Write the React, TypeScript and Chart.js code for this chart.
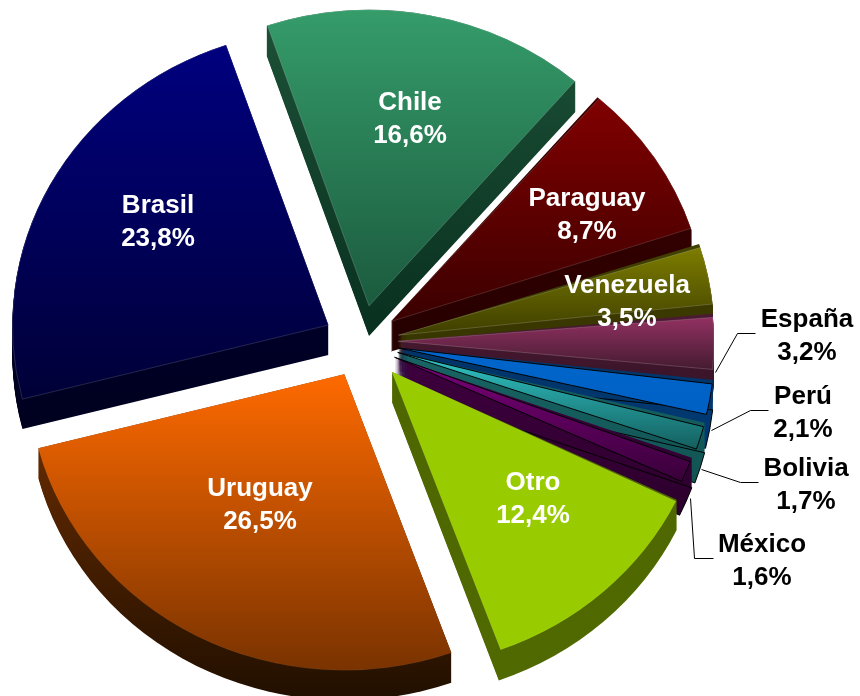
import React, { useEffect, useRef } from "react";
import Chart from "chart.js/auto";

const LABELS = ["Chile", "Paraguay", "Venezuela", "España", "Perú", "Bolivia", "México", "Otro", "Uruguay", "Brasil"];
const VALUES = [16.6, 8.7, 3.5, 3.2, 2.1, 1.7, 1.6, 12.4, 26.5, 23.8];

// style tables
const TOP_COLORS = ["#359c6a", "#800000", "#808000", "#993366", "#0066cc", "#33cccc", "#800080", "#99cc00", "#ff6a00", "#000080"];
const BOTTOM_COLORS = ["#1b5a3e", "#3a0000", "#3f3f00", "#401a2d", "#0060c4", "#145f5f", "#3a003a", "#99cc00", "#7a3300", "#000038"];
const WALL_BOTTOM = ["#04291a", "#1e0000", "#332f00", "#2a1020", "#003c78", "#0f5050", "#2a002a", "#506900", "#200f00", "#00001a"];
const EXPLODE = [37, 30, 31, 31, 31, 31, 31, 40, 40, 45];
const NUDGE_X = [-4, 0, 2, 1, 2, 2, 0, -1, -3, 2];
const NUDGE_Y = [0, -3, 1, 1, 3, 4, 6, 4, 1, 5];
const EDGE_COLORS = ["rgba(255,255,255,.3)", "rgba(255,255,255,.25)", "rgba(255,255,255,.3)", "rgba(255,255,255,.3)", "#000", "#000", "#000", "rgba(255,255,255,.15)", "rgba(255,255,255,.1)", "rgba(255,255,255,.25)"];
const EDGE_WIDTHS = [0.6, 0.6, 0.6, 0.6, 1, 1, 1, 0.5, 0.5, 0.6];
const WALL_ORDER = [0, 9, 1, 2, 3, 4, 5, 6, 7, 8];
const LABEL_POS = [[410, 103], [587, 199], [627, 286], [807, 320], [803, 397], [806, 469], [762, 545], [533, 483], [260, 489], [158, 206]];
const LABEL_COLOR = ["#fff", "#fff", "#fff", "#000", "#000", "#000", "#000", "#fff", "#fff", "#fff"];
const LEADERS: Record<number, number[][]> = {
  3: [[715, 372], [737, 333], [755, 333]],
  4: [[711, 430], [750, 410], [768, 410]],
  5: [[701, 469], [740, 482], [758, 482]],
  6: [[690, 498], [694, 558], [713, 558]],
};

const SQUASH = 0.937;
const CENTER_X = 366;
const CENTER_Y = 340;
const RADIUS = 316;
const DEPTH = 30;
const ROTATION = -18.9;
const WALL_SHADE = 0.5;
const LINE_GAP = 32.5;

const TOTAL = VALUES.reduce((a, b) => a + b, 0);

function angles(i: number) {
  let cum = 0;
  for (let k = 0; k < i; k++) cum += VALUES[k];
  const base = -Math.PI / 2 + (ROTATION * Math.PI) / 180;
  const start = base + (cum / TOTAL) * 2 * Math.PI;
  const end = start + (VALUES[i] / TOTAL) * 2 * Math.PI;
  return { start, end };
}

function yRange(i: number) {
  const { start, end } = angles(i);
  const ys = [0, Math.sin(start) * RADIUS, Math.sin(end) * RADIUS];
  for (let n = -2; n < 4; n++) {
    const a = Math.PI / 2 + n * Math.PI;
    if (a > start && a < end) ys.push(Math.sin(a) * RADIUS);
  }
  return { min: Math.min(...ys), max: Math.max(...ys) };
}

function fixFor(i: number) {
  const circ = (VALUES[i] / TOTAL) * 2 * Math.PI;
  return 1 - Math.sin(Math.min(Math.PI, circ));
}

function shade(hex: string, f: number) {
  const n = parseInt(hex.slice(1), 16);
  return `rgb(${((n >> 16) & 255) * f},${((n >> 8) & 255) * f},${(n & 255) * f})`;
}

const Pie3D = {
  id: "pie3d",
  beforeDatasetsDraw(chart: any) {
    const ctx = chart.ctx;
    const arcs = chart.getDatasetMeta(0).data;
    const area = chart.chartArea;
    const ox = (area.left + area.right) / 2;
    const oy = (area.top + area.bottom) / 2;
    // the arc element widens its radius by a share of its offset: cancel that
    arcs.forEach((a: any, i: number) => {
      a.outerRadius = RADIUS - EXPLODE[i] * fixFor(i);
      a.x = ox + NUDGE_X[i];
      a.y = oy + NUDGE_Y[i] / SQUASH;
    });
    ctx.save();
    ctx.translate(CENTER_X, CENTER_Y);
    ctx.scale(1, SQUASH);
    ctx.translate(-ox, -oy);
    for (const i of WALL_ORDER) {
      const { start, end } = angles(i);
      const mid = (start + end) / 2;
      const cx = arcs[i].x + Math.cos(mid) * EXPLODE[i];
      const cy = arcs[i].y + Math.sin(mid) * EXPLODE[i];
      const r = yRange(i);
      const g = ctx.createLinearGradient(0, oy + r.min, 0, oy + r.max + DEPTH + 40);
      g.addColorStop(0, shade(TOP_COLORS[i], WALL_SHADE));
      g.addColorStop(1, WALL_BOTTOM[i]);
      ctx.fillStyle = g;
      for (let t = DEPTH; t >= 0; t -= 1) {
        const yy = cy + t / SQUASH;
        ctx.beginPath();
        ctx.moveTo(cx, yy);
        ctx.arc(cx, yy, RADIUS, start, end);
        ctx.closePath();
        ctx.fill();
      }
      if (EDGE_COLORS[i] === "#000") {
        ctx.strokeStyle = "#000";
        ctx.lineWidth = 1;
        ctx.beginPath();
        ctx.moveTo(cx, cy + DEPTH / SQUASH);
        ctx.arc(cx, cy + DEPTH / SQUASH, RADIUS, start, end);
        ctx.closePath();
        ctx.stroke();
      }
    }
  },
  afterDatasetsDraw(chart: any) {
    const ctx = chart.ctx;
    ctx.restore();
    ctx.save();
    ctx.strokeStyle = "#000";
    ctx.lineWidth = 1;
    Object.values(LEADERS).forEach((pts) => {
      ctx.beginPath();
      pts.forEach((p, n) => (n ? ctx.lineTo(p[0] + 0.5, p[1] + 0.5) : ctx.moveTo(p[0] + 0.5, p[1] + 0.5)));
      ctx.stroke();
    });
    ctx.font = 'bold 26px "Liberation Sans", Arial, sans-serif';
    ctx.textAlign = "center";
    ctx.textBaseline = "middle";
    LABELS.forEach((name, i) => {
      const [x, y] = LABEL_POS[i];
      ctx.fillStyle = LABEL_COLOR[i];
      ctx.fillText(name, x, y);
      ctx.fillText(VALUES[i].toFixed(1).replace(".", ",") + "%", x, y + LINE_GAP);
    });
    ctx.restore();
  },
};

export default function App() {
  const ref = useRef<HTMLCanvasElement>(null);
  useEffect(() => {
    document.body.style.margin = "0";
    const chart = new Chart(ref.current!, {
      type: "pie",
      plugins: [Pie3D],
      data: {
        labels: LABELS,
        datasets: [
          {
            data: VALUES,
            radius: RADIUS,
            clip: false,
            offset: EXPLODE.map((d) => d * 4),
            borderColor: EDGE_COLORS,
            borderWidth: EDGE_WIDTHS,
            backgroundColor: (c: any) => {
              const i = c.dataIndex;
              if (i === undefined || !c.chart.chartArea) return "#000";
              const a = c.chart.chartArea;
              const cy = (a.top + a.bottom) / 2;
              const r = yRange(i);
              const g = c.chart.ctx.createLinearGradient(0, cy + r.min, 0, cy + r.max);
              g.addColorStop(0, TOP_COLORS[i]);
              g.addColorStop(1, BOTTOM_COLORS[i]);
              return g;
            },
          } as any,
        ],
      },
      options: {
        animation: false,
        responsive: false,
        rotation: ROTATION,
        layout: { padding: 0 },
        plugins: { legend: { display: false }, tooltip: { enabled: false } },
      } as any,
    });
    return () => chart.destroy();
  }, []);
  return (
    <div style={{ position: "absolute", left: 0, top: 0, width: 860, height: 696, background: "#fff" }}>
      <canvas ref={ref} width={860} height={696} style={{ display: "block" }} />
    </div>
  );
}
